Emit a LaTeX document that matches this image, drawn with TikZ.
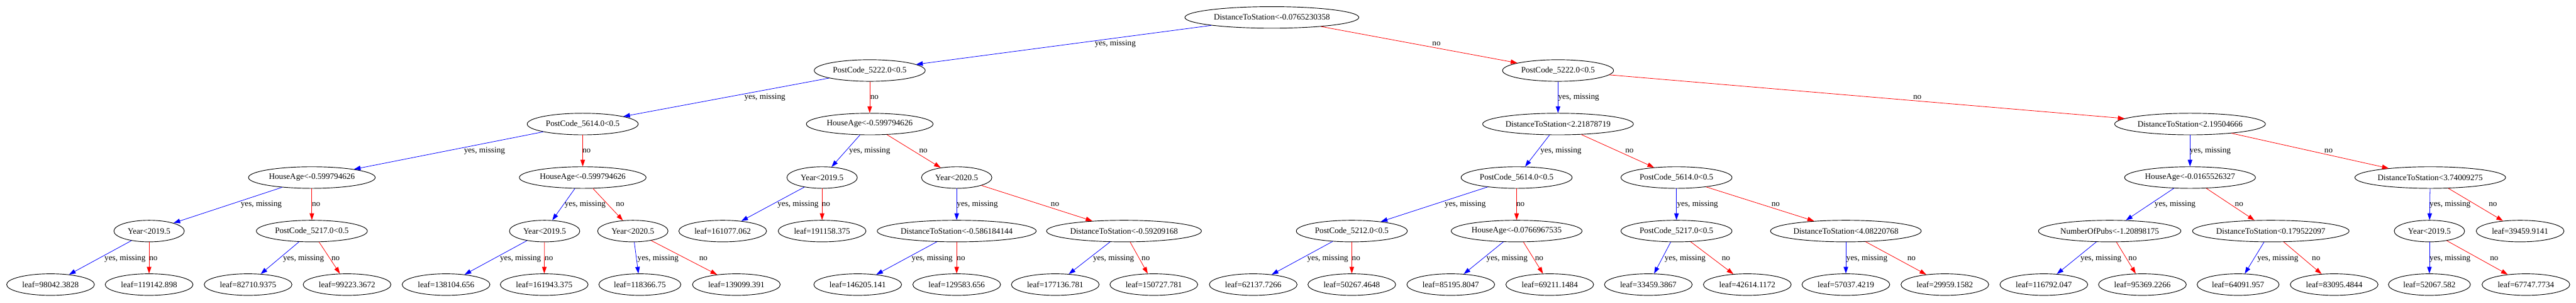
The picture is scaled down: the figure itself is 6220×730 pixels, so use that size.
\documentclass[tikz,border=0pt]{standalone}
\usepackage{fontspec}
\setmainfont{Liberation Serif}
\usetikzlibrary{shapes.geometric,arrows.meta}
\definecolor{gvblue}{RGB}{0,0,255}
\definecolor{gvred}{RGB}{255,0,0}
\newcommand\yesE[4]{\draw[yesline] (#1) -- (#2); \node[lbl] (y#1#2) at (#3,#4) {yes, missing};}
\newcommand\noE[4]{\draw[noline] (#1) -- (#2); \node[lbl] (o#1#2) at (#3,#4) {no};}
\begin{document}
\begin{tikzpicture}[x=0.5pt,y=-0.5pt,
  tn/.style={ellipse,draw=black,line width=0.7pt,inner sep=0pt,minimum height=26pt,minimum width=#1,font=\fontsize{10pt}{12pt}\selectfont},
  tn/.default=106pt,
  yesline/.style={draw=gvblue,line width=0.6pt,-{Triangle[length=8pt,width=5.5pt,fill=gvblue]}},
  noline/.style={draw=gvred,line width=0.6pt,-{Triangle[length=8pt,width=5.5pt,fill=gvred]}},
  lbl/.style={anchor=west,inner sep=0pt,font=\fontsize{10pt}{12pt}\selectfont}]
\useasboundingbox[fill=white] (0,0) rectangle (6220,730);
% row 0
\node[tn=210pt] (n0) at (3071,42) {DistanceToStation<-0.0765230358};
% row 1
\node[tn=134pt] (n1) at (2100,170) {PostCode\_5222.0<0.5};
\node[tn=134pt] (n2) at (3762,170) {PostCode\_5222.0<0.5};
% row 2
\node[tn=134pt] (n3) at (1407,299) {PostCode\_5614.0<0.5};
\node[tn=153pt] (n4) at (2100,299) {HouseAge<-0.599794626};
\node[tn=182pt] (n5) at (3762,299) {DistanceToStation<2.21878719};
\node[tn=182pt] (n6) at (5288,299) {DistanceToStation<2.19504666};
% row 3
\node[tn=153pt] (n7) at (753,428) {HouseAge<-0.599794626};
\node[tn=153pt] (n8) at (1407,428) {HouseAge<-0.599794626};
\node[tn=85pt] (n9) at (1985,428) {Year<2019.5};
\node[tn=85pt] (n10) at (2310,428) {Year<2020.5};
\node[tn=134pt] (n11) at (3662,428) {PostCode\_5614.0<0.5};
\node[tn=134pt] (n12) at (4048,428) {PostCode\_5614.0<0.5};
\node[tn=158pt] (n13) at (5288,428) {HouseAge<-0.0165526327};
\node[tn=182pt] (n14) at (5868,428) {DistanceToStation<3.74009275};
% row 4
\node[tn=85pt] (n15) at (360,557) {Year<2019.5};
\node[tn=134pt] (n16) at (753,557) {PostCode\_5217.0<0.5};
\node[tn=85pt] (n17) at (1315,557) {Year<2019.5};
\node[tn=85pt] (n18) at (1528,557) {Year<2020.5};
\node[tn] (n19) at (1745,557) {leaf=161077.062};
\node[tn] (n20) at (1985,557) {leaf=191158.375};
\node[tn=192pt] (n21) at (2310,557) {DistanceToStation<-0.586184144};
\node[tn=187pt] (n22) at (2714,557) {DistanceToStation<-0.59209168};
\node[tn=134pt] (n23) at (3264,557) {PostCode\_5212.0<0.5};
\node[tn=158pt] (n24) at (3662,557) {HouseAge<-0.0766967535};
\node[tn=134pt] (n25) at (4048,557) {PostCode\_5217.0<0.5};
\node[tn=182pt] (n26) at (4457,557) {DistanceToStation<4.08220768};
\node[tn=172pt] (n27) at (5094,557) {NumberOfPubs<-1.20898175};
\node[tn=189pt] (n28) at (5483,557) {DistanceToStation<0.179522097};
\node[tn=85pt] (n29) at (5866,557) {Year<2019.5};
\node[tn] (n30) at (6085,557) {leaf=39459.9141};
% row 5 leaves
\node[tn] (l1) at (122,686) {leaf=98042.3828};
\node[tn] (l2) at (360,686) {leaf=119142.898};
\node[tn] (l3) at (599,686) {leaf=82710.9375};
\node[tn] (l4) at (838,686) {leaf=99223.3672};
\node[tn] (l5) at (1077,686) {leaf=138104.656};
\node[tn] (l6) at (1314,686) {leaf=161943.375};
\node[tn=99pt] (l7) at (1545,686) {leaf=118366.75};
\node[tn] (l8) at (1778,686) {leaf=139099.391};
\node[tn] (l9) at (2071,686) {leaf=146205.141};
\node[tn] (l10) at (2310,686) {leaf=129583.656};
\node[tn] (l11) at (2548,686) {leaf=177136.781};
\node[tn] (l12) at (2786,686) {leaf=150727.781};
\node[tn] (l13) at (3026,686) {leaf=62137.7266};
\node[tn] (l14) at (3264,686) {leaf=50267.4648};
\node[tn] (l15) at (3503,686) {leaf=85195.8047};
\node[tn] (l16) at (3742,686) {leaf=69211.1484};
\node[tn] (l17) at (3980,686) {leaf=33459.3867};
\node[tn] (l18) at (4219,686) {leaf=42614.1172};
\node[tn] (l19) at (4457,686) {leaf=57037.4219};
\node[tn] (l20) at (4696,686) {leaf=29959.1582};
\node[tn] (l21) at (4935,686) {leaf=116792.047};
\node[tn] (l22) at (5173,686) {leaf=95369.2266};
\node[tn=99pt] (l23) at (5404,686) {leaf=64091.957};
\node[tn] (l24) at (5636,686) {leaf=83095.4844};
\node[tn=99pt] (l25) at (5866,686) {leaf=52067.582};
\node[tn] (l26) at (6099,686) {leaf=67747.7734};
% edges level 0-1
\yesE{n0}{n1}{2643}{106}
\noE{n0}{n2}{3458}{106}
% level 1-2
\yesE{n1}{n3}{1797}{235}
\noE{n1}{n4}{2101}{235}
\yesE{n2}{n5}{3762}{235}
\noE{n2}{n6}{4619}{235}
% level 2-3
\yesE{n3}{n7}{1120}{364}
\noE{n3}{n8}{1406}{364}
\yesE{n4}{n9}{2050}{364}
\noE{n4}{n10}{2219}{364}
\yesE{n5}{n11}{3719}{364}
\noE{n5}{n12}{3924}{364}
\yesE{n6}{n13}{5287}{364}
\noE{n6}{n14}{5612}{364}
% level 3-4
\yesE{n7}{n15}{581}{493}
\noE{n7}{n16}{753}{493}
\yesE{n8}{n17}{1363}{493}
\noE{n8}{n18}{1487}{493}
\yesE{n9}{n19}{1877}{493}
\noE{n9}{n20}{1984}{493}
\yesE{n10}{n21}{2310}{493}
\noE{n10}{n22}{2537}{493}
\yesE{n11}{n23}{3488}{493}
\noE{n11}{n24}{3661}{493}
\yesE{n12}{n25}{4049}{493}
\noE{n12}{n26}{4277}{493}
\yesE{n13}{n27}{5202}{493}
\noE{n13}{n28}{5396}{493}
\yesE{n14}{n29}{5866}{493}
\noE{n14}{n30}{6009}{493}
% level 4-5
\yesE{n15}{l1}{252}{623}
\noE{n15}{l2}{360}{623}
\yesE{n16}{l3}{683}{623}
\noE{n16}{l4}{800}{623}
\yesE{n17}{l5}{1207}{623}
\noE{n17}{l6}{1315}{623}
\yesE{n18}{l7}{1539}{623}
\noE{n18}{l8}{1688}{623}
\yesE{n21}{l9}{2201}{623}
\noE{n21}{l10}{2310}{623}
\yesE{n22}{l11}{2639}{623}
\noE{n22}{l12}{2756}{623}
\yesE{n23}{l13}{3156}{623}
\noE{n23}{l14}{3264}{623}
\yesE{n24}{l15}{3589}{623}
\noE{n24}{l16}{3706}{623}
\yesE{n25}{l17}{4019}{623}
\noE{n25}{l18}{4157}{623}
\yesE{n26}{l19}{4458}{623}
\noE{n26}{l20}{4605}{623}
\yesE{n27}{l21}{5023}{623}
\noE{n27}{l22}{5139}{623}
\yesE{n28}{l23}{5450}{623}
\noE{n28}{l24}{5582}{623}
\yesE{n29}{l25}{5866}{623}
\noE{n29}{l26}{6012}{623}
\end{tikzpicture}
\end{document}
